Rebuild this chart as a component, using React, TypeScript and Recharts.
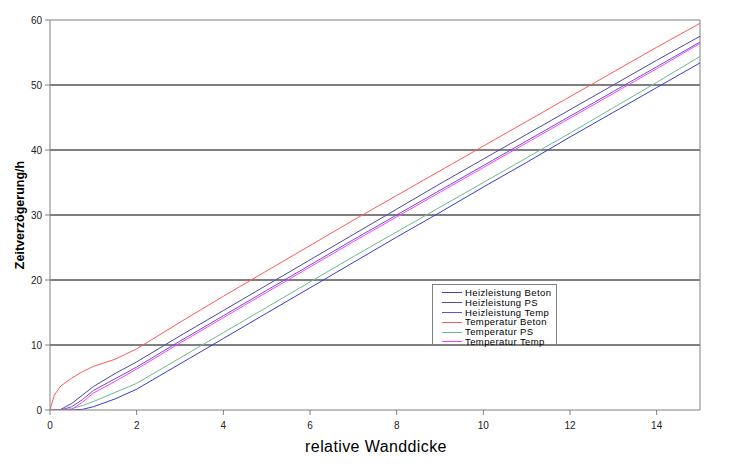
import React from 'react';
import { LineChart, Line, XAxis, YAxis, CartesianGrid, ReferenceLine, Legend } from 'recharts';

const wanddicke = [0, 0.1, 0.25, 0.5, 0.75, 1, 1.5, 2, 3, 4, 5, 6, 7, 8, 9, 10, 11, 12, 13, 14, 15];
const heizleistungBeton = [0, 0, 0, 0, 0.1, 0.5, 1.7, 3.2, 7.1, 11.0, 14.9, 18.8, 22.7, 26.6, 30.4, 34.3, 38.1, 42.0, 45.8, 49.6, 53.4];
const heizleistungPS = [0, 0, 0.1, 1.0, 2.3, 3.6, 5.6, 7.4, 11.4, 15.3, 19.2, 23.1, 27.0, 30.9, 34.8, 38.6, 42.4, 46.2, 50.0, 53.8, 57.5];
const heizleistungTemp = [0, 0, 0, 0.5, 1.6, 3.0, 4.8, 6.6, 10.6, 14.5, 18.4, 22.3, 26.2, 30.0, 33.8, 37.6, 41.4, 45.2, 49.0, 52.8, 56.6];
const temperaturBeton = [0, 2.3, 3.7, 4.9, 5.9, 6.7, 7.8, 9.4, 13.5, 17.5, 21.4, 25.3, 29.2, 33.0, 36.8, 40.6, 44.4, 48.2, 52.0, 55.8, 59.5];
const temperaturPS = [0, 0, 0, 0.2, 0.7, 1.3, 2.7, 4.1, 8.0, 11.9, 15.8, 19.7, 23.6, 27.4, 31.2, 35.0, 38.8, 42.6, 46.5, 50.4, 54.4];
const temperaturTemp = [0, 0, 0, 0.1, 1.2, 2.6, 4.4, 6.3, 10.3, 14.2, 18.1, 22.0, 25.9, 29.7, 33.5, 37.3, 41.1, 44.9, 48.7, 52.5, 56.4];

const seriesNames = [
  'Heizleistung Beton',
  'Heizleistung PS',
  'Heizleistung Temp',
  'Temperatur Beton',
  'Temperatur PS',
  'Temperatur Temp',
];
const seriesKeys = ['hb', 'hps', 'ht', 'tb', 'tps', 'tt'];
const seriesColors = ['#3c3cc8', '#4a4aa6', '#6650d8', '#ff5a5a', '#6fb896', '#ff40ff'];

const xTicks = [0, 2, 4, 6, 8, 10, 12, 14];
const yTicks = [0, 10, 20, 30, 40, 50, 60];
const gridValues = [10, 20, 30, 40, 50];

const xTitle = 'relative Wanddicke';
const yTitle = 'Zeitverzögerung/h';

const seriesValues = [heizleistungBeton, heizleistungPS, heizleistungTemp, temperaturBeton, temperaturPS, temperaturTemp];

const data = wanddicke.map((x, i) => {
  const row: Record<string, number> = { x };
  seriesKeys.forEach((k, j) => {
    row[k] = seriesValues[j][i];
  });
  return row;
});

const FONT = '"Liberation Sans", Arial, sans-serif';

const LegendBox = () => (
  <div
    style={{
      width: 125,
      height: 61,
      boxSizing: 'border-box',
      border: '1px solid #808080',
      background: '#fff',
      paddingTop: 3,
      fontFamily: FONT,
    }}
  >
    {seriesNames.map((n, i) => (
      <div key={n} style={{ display: 'flex', alignItems: 'center', height: 9.8 }}>
        <div style={{ width: 20, height: 1, background: seriesColors[i], marginLeft: 9, marginRight: 3 }} />
        <span style={{ fontSize: 9.5, lineHeight: '9.8px', color: '#000', whiteSpace: 'nowrap', letterSpacing: 0.4 }}>{n}</span>
      </div>
    ))}
  </div>
);

export default function App() {
  return (
    <div style={{ position: 'absolute', left: 0, top: 0, width: 750, height: 466, background: '#fff', fontFamily: FONT }}>
      <LineChart width={750} height={466} data={data} margin={{ top: 20, right: 50, bottom: 0, left: 0 }}>
        <CartesianGrid vertical={false} horizontalValues={gridValues} stroke="#000" strokeWidth={1} />
        <ReferenceLine y={60} stroke="#808080" strokeWidth={1} ifOverflow="extendDomain" />
        <ReferenceLine x={15} stroke="#808080" strokeWidth={1} />
        <XAxis
          dataKey="x"
          type="number"
          domain={[0, 15]}
          ticks={xTicks}
          height={56}
          stroke="#808080"
          tickSize={5}
          tickMargin={7}
          tick={{ fill: '#222', fontSize: 10, fontFamily: FONT }}
          allowDataOverflow
          label={() => (
            <text x={376} y={452} textAnchor="middle" fontSize={16} letterSpacing={0.4} fill="#000" fontFamily={FONT}>
              {xTitle}
            </text>
          )}
        />
        <YAxis
          type="number"
          domain={[0, 60]}
          ticks={yTicks}
          width={50}
          stroke="#808080"
          tickSize={5}
          tickMargin={3}
          tick={{ fill: '#222', fontSize: 10, fontFamily: FONT }}
          allowDataOverflow
          label={() => (
            <text
              x={24}
              y={215}
              transform="rotate(-90, 24, 215)"
              textAnchor="middle"
              fontSize={12.5}
              fontWeight="bold"
              fill="#000"
              fontFamily={FONT}
            >
              {yTitle}
            </text>
          )}
        />
        {seriesKeys.map((k, i) => (
          <Line
            key={k}
            dataKey={k}
            name={seriesNames[i]}
            type="linear"
            stroke={seriesColors[i]}
            strokeWidth={1}
            dot={false}
            activeDot={false}
            isAnimationActive={false}
          />
        ))}
        <Legend
          layout="vertical"
          align="center"
          verticalAlign="middle"
          content={() => <LegendBox />}
          wrapperStyle={{ position: 'absolute', left: 432, top: 284, width: 125, height: 61 }}
        />
      </LineChart>
    </div>
  );
}
